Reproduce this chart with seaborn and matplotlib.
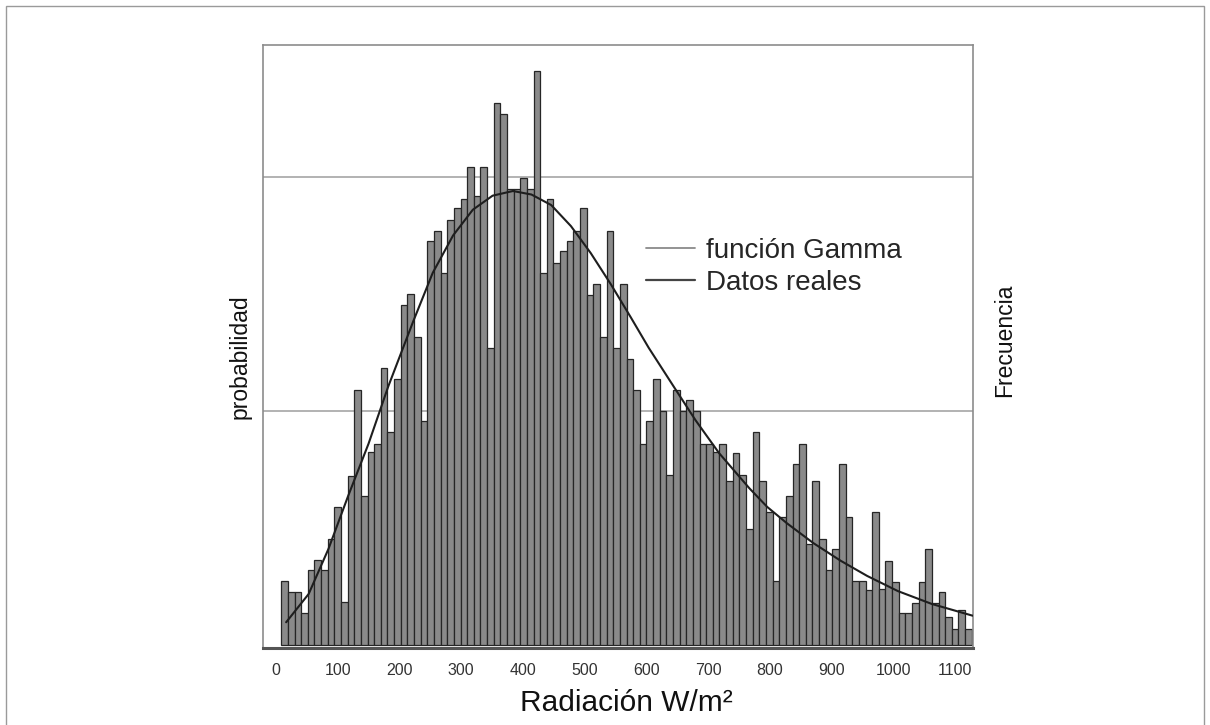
import numpy as np
import pandas as pd
import matplotlib
matplotlib.use("Agg")
import matplotlib.pyplot as plt
from matplotlib.lines import Line2D
from matplotlib.patches import Rectangle
import seaborn as sns

freq = [27.3, 22.5, 22.5, 13.7, 32.2, 36.2, 32.2, 45.1, 58.8, 18.5,
        72.4, 109.0, 63.7, 82.3, 86.0, 118.3, 91.0, 113.5, 145.4, 150.0,
        131.7, 95.6, 172.6, 177.0, 159.0, 181.7, 186.6, 190.7, 204.2, 192.0,
        204.2, 126.8, 231.7, 226.8, 195.0, 195.0, 199.5, 195.0, 245.5, 159.0,
        190.7, 163.2, 168.2, 172.6, 176.8, 186.6, 149.7, 154.3, 131.8, 177.0,
        127.0, 154.3, 122.2, 109.1, 85.9, 95.6, 113.5, 99.8, 72.5, 109.1,
        99.8, 104.5, 99.8, 86.0, 86.0, 82.3, 86.0, 70.0, 82.2, 72.5,
        49.5, 91.0, 70.0, 57.0, 27.3, 54.6, 63.7, 77.3, 85.9, 43.0,
        70.0, 45.1, 32.0, 41.0, 77.3, 54.6, 27.3, 27.3, 23.5, 57.0,
        24.0, 36.0, 27.0, 13.5, 13.5, 18.0, 27.0, 41.0, 18.0, 22.5,
        12.0, 7.0, 15.0, 7.0]
bin_lo, bin_hi = 8.6, 1127.5

# fitted gamma curve
curve_x = [16.5, 53, 85, 117, 150, 182, 222, 254, 287, 319, 351, 384, 414,
           446, 478, 510, 543, 575, 604, 648, 680, 718, 767, 796, 828, 871,
           915, 958, 1008, 1063, 1129]
curve_y = [9.7, 21.8, 41.0, 63.7, 86.0, 110.5, 138.0, 159.0, 175.0, 186.0,
           192.0, 194.0, 192.5, 188.0, 179.0, 167.5, 154.0, 140.0, 127.0,
           109.0, 96.0, 82.0, 67.0, 59.0, 52.0, 43.5, 36.0, 29.5, 23.0,
           17.5, 12.5]

x_ticks = list(range(0, 1200, 100))
legend_labels = ["función Gamma", "Datos reales"]

sns.set_style("white")
plt.rcParams["font.family"] = ["Liberation Sans", "DejaVu Sans"]

fig = plt.figure(figsize=(12.1, 7.25), dpi=100)
ax = fig.add_axes([263 / 1210, 1 - 648 / 725, 710 / 1210, 603 / 725])

edges = np.linspace(bin_lo, bin_hi, len(freq) + 1)
hist_df = pd.DataFrame({"rad": (edges[:-1] + edges[1:]) / 2, "freq": freq})
curve_df = pd.DataFrame({"rad": curve_x, "dens": curve_y})

sns.histplot(data=hist_df, x="rad", weights="freq", bins=edges.tolist(),
             ax=ax, color="#8a8a8a", edgecolor="#262626", linewidth=0.9,
             alpha=1, zorder=2)
sns.lineplot(data=curve_df, x="rad", y="dens", ax=ax, color="#1e1e1e",
             linewidth=1.5, zorder=3)

ax.set_xlim(-21, 1129.5)
ax.set_ylim(-1.3, 256.4)
ax.set_yticks([100, 200])
ax.set_yticklabels([])
ax.yaxis.grid(True, color="#a6a6a6", linewidth=1.2)
ax.set_axisbelow(True)
ax.set_xticks(x_ticks)
ax.set_xticklabels([str(t) for t in x_ticks], fontsize=11.5,
                   color="#333333")
ax.tick_params(axis="y", length=0)
ax.tick_params(axis="x", length=3, width=0.8, color="#777777",
               direction="out", pad=8)
ax.set_xlabel("")
ax.set_ylabel("")
for side in ["left", "right", "top"]:
    ax.spines[side].set_color("#8c8c8c")
    ax.spines[side].set_linewidth(1.2)
ax.spines["bottom"].set_color("#555555")
ax.spines["bottom"].set_linewidth(2.2)

handles = [Line2D([], [], color="#8a8a8a", linewidth=1.3),
           Line2D([], [], color="#444444", linewidth=1.6)]
fig.legend(handles, legend_labels, loc="center left",
           bbox_to_anchor=(646 / 1210, 1 - 267 / 725), frameon=False,
           fontsize=20, handlelength=1.75, handletextpad=0.4,
           labelspacing=0.22, borderpad=0, borderaxespad=0)

fig.text(240 / 1210, 1 - 357 / 725, "probabilidad", rotation=90,
         ha="center", va="center", fontsize=16.5, color="#111111")
fig.text(1005 / 1210, 1 - 340 / 725, "Frecuencia", rotation=90,
         ha="center", va="center", fontsize=16.5, color="#111111")
fig.text(626 / 1210, 1 - 703 / 725, "Radiación W/m²", ha="center",
         va="center", fontsize=21.5, color="#111111")

# outer frame of the figure panel (bottom edge is cut off)
fig.patches.append(Rectangle((6 / 1210, -0.05), 1198 / 1210, 1.05 - 6 / 725,
                             transform=fig.transFigure, fill=False,
                             edgecolor="#9a9a9a", linewidth=1.0))

fig.savefig("out.png", dpi=100, facecolor="white")
